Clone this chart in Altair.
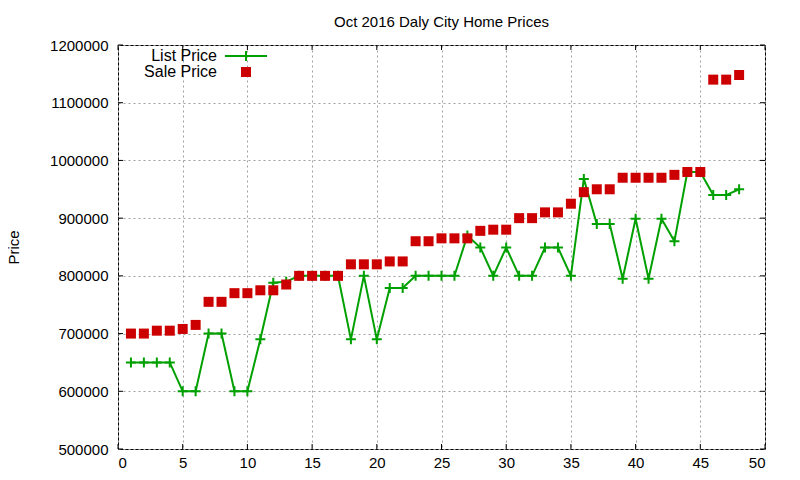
import altair as alt
import pandas as pd

# listing index, 1..48
listing = list(range(1, 49))

list_price = [
    650000, 650000, 650000, 650000, 600000, 600000, 700000, 700000, 600000, 600000,
    690000, 788000, 790000, 800000, 800000, 800000, 800000, 690000, 800000, 690000,
    779000, 779000, 800000, 800000, 800000, 800000, 870000, 849000, 800000, 849000,
    800000, 800000, 849000, 849000, 800000, 968000, 890000, 890000, 795000, 899000,
    795000, 899000, 860000, 980000, 980000, 940000, 940000, 950000,
]

sale_price = [
    700000, 700000, 705000, 705000, 708000, 715000, 755000, 755000, 770000, 770000,
    775000, 775000, 785000, 800000, 800000, 800000, 800000, 820000, 820000, 820000,
    825000, 825000, 860000, 860000, 865000, 865000, 865000, 878000, 880000, 880000,
    900000, 900000, 910000, 910000, 925000, 945000, 950000, 950000, 970000, 970000,
    970000, 970000, 975000, 980000, 980000, 1140000, 1140000, 1148000,
]

x_ticks = [0, 5, 10, 15, 20, 25, 30, 35, 40, 45, 50]
y_ticks = [500000, 600000, 700000, 800000, 900000, 1000000, 1100000, 1200000]
legend_labels = ["List Price", "Sale Price"]

W, H = 647, 404
FONT = "Liberation Sans"
GREEN = "#00a000"
RED = "#cc0000"
PLUS = "M-1,0L1,0M0,-1L0,1"

df = pd.DataFrame({"n": listing, "list": list_price, "sale": sale_price})
xt = pd.DataFrame({"x": x_ticks})
yt = pd.DataFrame({"y": y_ticks})

x_scale = alt.Scale(domain=[0, 50], nice=False, zero=False)
y_scale = alt.Scale(domain=[500000, 1200000], nice=False, zero=False)

x_enc = alt.X(
    "n:Q", scale=x_scale, title=None,
    axis=alt.Axis(values=x_ticks, grid=True, tickSize=0, domain=False,
                  labelPadding=6),
)
y_enc_list = alt.Y(
    "list:Q", scale=y_scale, title="Price",
    axis=alt.Axis(values=y_ticks, grid=True, tickSize=0, domain=False,
                  format="d", labelPadding=10, titleX=-105, titleY=H / 2,
                  titleAngle=270, titleAlign="center", titleBaseline="middle"),
)

base = alt.Chart(df)

line = base.mark_line(color=GREEN, strokeWidth=2).encode(x=x_enc, y=y_enc_list)
plus = base.mark_point(shape=PLUS, filled=False, size=100, strokeWidth=2,
                       color=GREEN, opacity=1).encode(
    x=alt.X("n:Q", scale=x_scale), y=alt.Y("list:Q", scale=y_scale))
squares = base.mark_square(size=100, color=RED, opacity=1).encode(
    x=alt.X("n:Q", scale=x_scale), y=alt.Y("sale:Q", scale=y_scale))

# inward tick marks on all four sides (gnuplot style)
tick_b = alt.Chart(xt).mark_rule(color="black").encode(
    x=alt.X("x:Q", scale=x_scale), y=alt.value(H), y2=alt.value(H - 5))
tick_t = alt.Chart(xt).mark_rule(color="black").encode(
    x=alt.X("x:Q", scale=x_scale), y=alt.value(0), y2=alt.value(5))
tick_l = alt.Chart(yt).mark_rule(color="black").encode(
    y=alt.Y("y:Q", scale=y_scale), x=alt.value(0), x2=alt.value(5))
tick_r = alt.Chart(yt).mark_rule(color="black").encode(
    y=alt.Y("y:Q", scale=y_scale), x=alt.value(W), x2=alt.value(W - 5))

# key in the top-left corner
key_list = pd.DataFrame({"label": legend_labels[:1]})
key_sale = pd.DataFrame({"label": legend_labels[1:]})


def key_label(data, ypos):
    return alt.Chart(data).mark_text(
        align="right", baseline="middle", font=FONT, fontSize=16, color="black"
    ).encode(text="label:N", x=alt.value(99), y=alt.value(ypos))


key_line = alt.Chart(key_list).mark_rule(color=GREEN, strokeWidth=2).encode(
    x=alt.value(107), x2=alt.value(149), y=alt.value(11))
key_plus = alt.Chart(key_list).mark_point(
    shape=PLUS, filled=False, size=100, strokeWidth=2, color=GREEN, opacity=1
).encode(x=alt.value(128), y=alt.value(11))
key_square = alt.Chart(key_sale).mark_square(size=100, color=RED, opacity=1).encode(
    x=alt.value(128), y=alt.value(27))

chart = (
    alt.layer(line, plus, squares, tick_b, tick_t, tick_l, tick_r,
              key_label(key_list, 11), key_label(key_sale, 27),
              key_line, key_plus, key_square)
    .properties(
        width=W, height=H,
        title=alt.TitleParams("Oct 2016 Daly City Home Prices", font=FONT,
                              fontSize=15, fontWeight="normal", anchor="middle",
                              offset=8, color="black"),
        autosize="none",
        padding={"left": 110, "top": 37, "right": 20, "bottom": 20},
        background="white",
    )
    .configure_view(stroke="black", strokeWidth=1)
    .configure_axis(
        labelFont=FONT, labelFontSize=15, labelColor="black",
        titleFont=FONT, titleFontSize=15, titleFontWeight="normal", titleColor="black",
        gridColor="#a0a0a0", gridDash=[2, 3], gridWidth=1, gridOpacity=1,
    )
)

chart.save("out.html", embed_options={"renderer": "svg", "actions": False})
